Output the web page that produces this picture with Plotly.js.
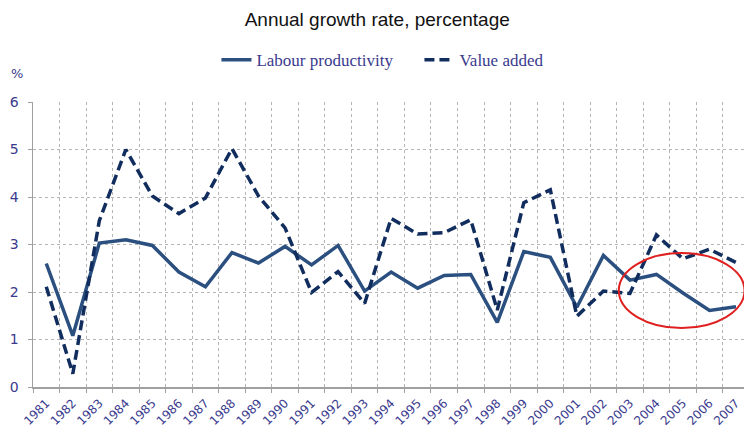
<!DOCTYPE html>
<html>
<head>
<meta charset="utf-8">
<script src="https://cdn.plot.ly/plotly-3.0.1.min.js"></script>
<style>
html,body{margin:0;padding:0;background:#fff;overflow:hidden;}
#chart{width:744px;height:432px;}
</style>
</head>
<body>
<div id="chart"></div>
<script>
const years = ["1981","1982","1983","1984","1985","1986","1987","1988","1989","1990","1991","1992","1993","1994","1995","1996","1997","1998","1999","2000","2001","2002","2003","2004","2005","2006","2007"];
const labourProductivity = [2.60,1.08,3.03,3.10,2.98,2.42,2.11,2.83,2.61,2.96,2.57,2.98,2.02,2.42,2.08,2.35,2.37,1.36,2.85,2.73,1.68,2.77,2.25,2.37,1.98,1.61,1.69];
const valueAdded = [2.11,0.28,3.50,5.00,4.02,3.65,3.98,5.02,4.02,3.35,1.99,2.43,1.76,3.55,3.22,3.25,3.52,1.62,3.88,4.15,1.49,2.02,1.97,3.20,2.70,2.90,2.62];
const yTicks = [0,1,2,3,4,5,6];

const navyText = "#3a3a8e";
const traces = [
  {x: years, y: labourProductivity, name: "Labour productivity", type: "scatter", mode: "lines",
   line: {color: "#2b5080", width: 3.5}},
  {x: years, y: valueAdded, name: "Value added", type: "scatter", mode: "lines",
   line: {color: "#112d5e", width: 3.5, dash: "10px,5px"}}
];

const layout = {
  width: 744, height: 432,
  margin: {l: 33, r: 0, t: 102, b: 45},
  paper_bgcolor: "#fff", plot_bgcolor: "#fff",
  title: {text: "Annual growth rate, percentage", x: 0.507, xanchor: "center", y: 0.955, yanchor: "middle",
          font: {family: "Liberation Sans, Arial, sans-serif", size: 19, color: "#111"}},
  showlegend: true,
  legend: {orientation: "h", x: 0.258, xanchor: "left", y: 1.147, yanchor: "middle",
           font: {family: "Liberation Serif, DejaVu Serif, serif", size: 17, color: navyText},
           bgcolor: "rgba(0,0,0,0)", entrywidth: 158, entrywidthmode: "pixels", tracegroupgap: 0},
  xaxis: {type: "category", range: [-0.5, 26.3], tickson: "boundaries", tickangle: -45,
          showgrid: true, gridcolor: "#b4b4b4", griddash: "dot", gridwidth: 1,
          showline: true, linecolor: "#a0a0a0", linewidth: 1.5,
          ticks: "outside", ticklen: 4, tickcolor: "#a0a0a0", ticklabelstandoff: 3,
          tickfont: {family: "DejaVu Sans, Verdana, sans-serif", size: 12, color: navyText},
          fixedrange: true},
  yaxis: {range: [0, 6], tickvals: yTicks, ticktext: yTicks.map(String),
          showgrid: true, gridcolor: "#b4b4b4", griddash: "dot", gridwidth: 1,
          showline: true, linecolor: "#a0a0a0", linewidth: 1.5, zeroline: false,
          ticks: "outside", ticklen: 4, tickcolor: "#a0a0a0", ticklabelstandoff: 6,
          tickfont: {family: "DejaVu Sans, Verdana, sans-serif", size: 14, color: navyText},
          fixedrange: true},
  annotations: [
    {text: "%", xref: "paper", yref: "paper", x: -0.022, y: 1.10, xanchor: "center", yanchor: "middle",
     showarrow: false, font: {family: "DejaVu Sans, Verdana, sans-serif", size: 13, color: navyText}}
  ],
  shapes: [
    {type: "circle", xref: "x", yref: "y", x0: 21.58, x1: 26.32, y0: 1.24, y1: 2.82,
     line: {color: "#e02020", width: 2}}
  ]
};

Plotly.newPlot("chart", traces, layout, {displayModeBar: false, staticPlot: true});
</script>
</body>
</html>
